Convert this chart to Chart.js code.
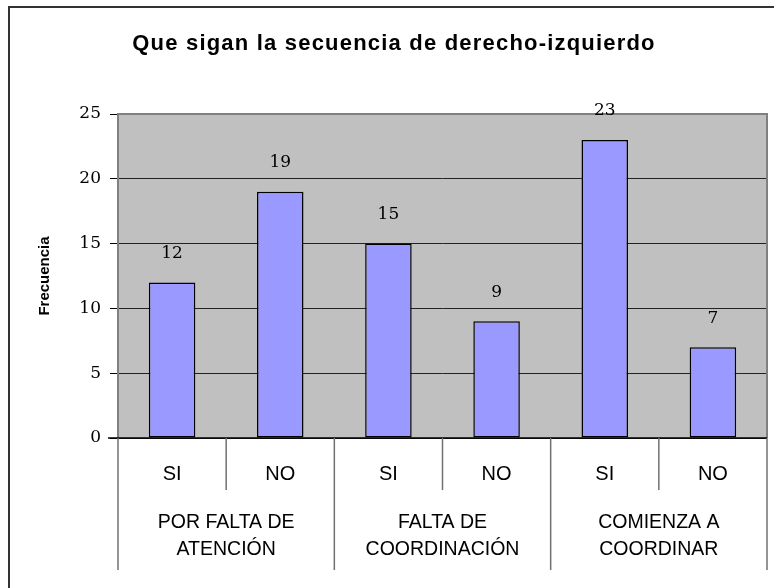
<!DOCTYPE html>
<html>
<head>
<meta charset="utf-8">
<script src="https://cdn.jsdelivr.net/npm/chart.js@4/dist/chart.umd.min.js"></script>
<style>
html,body{margin:0;padding:0;background:#fff;}
#wrap{width:774px;height:588px;}
</style>
</head>
<body>
<div id="wrap"><canvas id="c" width="774" height="588"></canvas></div>
<script>
const chartTitle = 'Que sigan la secuencia de derecho-izquierdo';
const yAxisTitle = 'Frecuencia';
const subLabels = ['SI', 'NO', 'SI', 'NO', 'SI', 'NO'];
const groupLabels = [['POR FALTA DE', 'ATENCIÓN'], ['FALTA DE', 'COORDINACIÓN'], ['COMIENZA A', 'COORDINAR']];
const values = [12, 19, 15, 9, 23, 7];
const yTicks = [0, 5, 10, 15, 20, 25];

const SANS = '"Liberation Sans", Arial, sans-serif';
const SERIF = '"DejaVu Serif", serif';

const decor = {
  id: 'decor',
  beforeDraw(chart) {
    const {ctx, chartArea: a} = chart;
    ctx.save();
    ctx.fillStyle = '#fff';
    ctx.fillRect(0, 0, chart.width, chart.height);
    ctx.fillStyle = '#C0C0C0';
    ctx.fillRect(a.left, a.top, a.right - a.left, a.bottom - a.top);
    ctx.restore();
  },
  afterDraw(chart) {
    const {ctx, chartArea: a} = chart;
    const x = chart.scales.x;
    ctx.save();
    // outer frame
    ctx.strokeStyle = '#333';
    ctx.lineWidth = 2;
    ctx.strokeRect(9, 7, 800, 620);
    // plot border (top/right) and y axis line
    ctx.strokeStyle = '#808080';
    ctx.lineWidth = 2;
    ctx.beginPath();
    ctx.moveTo(a.left, a.bottom); ctx.lineTo(a.left, a.top);
    ctx.lineTo(a.right, a.top); ctx.lineTo(a.right, a.bottom);
    ctx.stroke();
    // x axis line
    ctx.strokeStyle = '#000';
    ctx.lineWidth = 1.5;
    ctx.beginPath();
    ctx.moveTo(a.left - 10, a.bottom); ctx.lineTo(a.right, a.bottom);
    ctx.stroke();
    // separators
    const n = subLabels.length;
    const bounds = [];
    for (let i = 0; i <= n; i++) {
      if (i === 0) bounds.push(a.left);
      else if (i === n) bounds.push(a.right);
      else bounds.push((x.getPixelForValue(i - 1) + x.getPixelForValue(i)) / 2);
    }
    ctx.strokeStyle = '#707070';
    ctx.lineWidth = 1.5;
    bounds.forEach((bx, i) => {
      ctx.beginPath();
      ctx.moveTo(bx, a.bottom);
      ctx.lineTo(bx, i % 2 === 0 ? a.bottom + 132 : a.bottom + 52);
      ctx.stroke();
    });
    // sub labels
    ctx.fillStyle = '#000';
    ctx.textAlign = 'center';
    ctx.textBaseline = 'middle';
    ctx.font = '20px ' + SANS;
    subLabels.forEach((l, i) => ctx.fillText(l, x.getPixelForValue(i), a.bottom + 36));
    // group labels
    ctx.font = '19.5px ' + SANS;
    groupLabels.forEach((lines, g) => {
      const cx = (bounds[g * 2] + bounds[g * 2 + 2]) / 2;
      lines.forEach((t, k) => ctx.fillText(t, cx, a.bottom + 85 + k * 27));
    });
    // data labels
    ctx.font = '17px ' + SERIF;
    const meta = chart.getDatasetMeta(0);
    meta.data.forEach((bar, i) => {
      ctx.fillText(String(values[i]), bar.x, bar.y - 29);
    });
    // title
    ctx.font = 'bold 22px ' + SANS;
    ctx.letterSpacing = '1.2px';
    ctx.fillText(chartTitle, 394, 44);
    ctx.letterSpacing = '0px';
    // y title
    ctx.translate(45, (a.top + a.bottom) / 2);
    ctx.rotate(-Math.PI / 2);
    ctx.font = 'bold 15px ' + SANS;
    ctx.fillText(yAxisTitle, 0, 0);
    ctx.restore();
  }
};

new Chart(document.getElementById('c'), {
  type: 'bar',
  data: {
    labels: subLabels,
    datasets: [{
      data: values,
      backgroundColor: '#9999FF',
      borderColor: '#000',
      borderWidth: 1.5,
      borderSkipped: false,
      barPercentage: 0.43,
      categoryPercentage: 1
    }]
  },
  options: {
    responsive: false,
    animation: false,
    events: [],
    layout: {padding: {top: 114, left: 0, right: 7, bottom: 150}},
    plugins: {legend: {display: false}, title: {display: false}, tooltip: {enabled: false}},
    scales: {
      x: {display: false},
      y: {
        min: 0, max: 25,
        afterBuildTicks(s) { s.ticks = yTicks.map(v => ({value: v})); },
        afterFit(s) { s.width = 118; },
        ticks: {font: {family: SERIF, size: 17}, color: '#000', padding: 9},
        grid: {color: '#222', lineWidth: 1, drawTicks: true, tickLength: 8, tickColor: '#000'},
        border: {display: false}
      }
    }
  },
  plugins: [decor]
});
</script>
</body>
</html>
